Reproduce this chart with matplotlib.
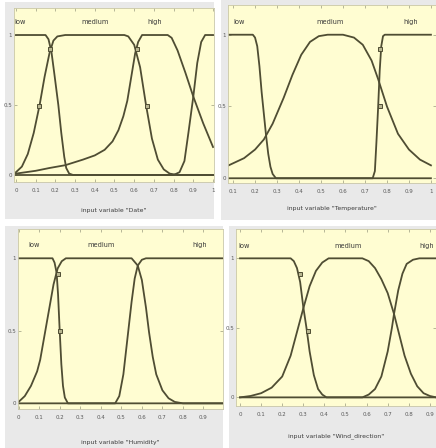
import matplotlib
matplotlib.use("Agg")
import matplotlib.pyplot as plt
from matplotlib.patches import Rectangle

W, H = 436, 448

# ---- values ----
mf_names = ["low", "medium", "high"]
xlabels = ['input variable "Date"', 'input variable "Temperature"',
           'input variable "Humidity"', 'input variable "Wind_direction"']

# Date
date_low_x = [0.0, 0.15, 0.165, 0.18, 0.195, 0.215, 0.23, 0.245, 0.255, 0.27, 0.29, 1.0]
date_low_y = [1.0, 1.0, 0.97, 0.88, 0.72, 0.5, 0.3, 0.13, 0.05, 0.01, 0.0, 0.0]
date_med_x = [0.0, 0.03, 0.06, 0.09, 0.12, 0.145, 0.17, 0.19, 0.21, 0.25, 0.55, 0.57,
              0.6, 0.63, 0.66, 0.69, 0.72, 0.75, 0.78, 0.82, 1.0]
date_med_y = [0.02, 0.06, 0.15, 0.3, 0.5, 0.7, 0.87, 0.96, 0.99, 1.0, 1.0, 0.99,
              0.93, 0.77, 0.5, 0.26, 0.11, 0.04, 0.01, 0.0, 0.0]
date_high_x = [0.0, 0.1, 0.17, 0.25, 0.34, 0.4, 0.45, 0.49, 0.52, 0.545, 0.565, 0.585,
               0.605, 0.62, 0.64, 0.77, 0.79, 0.82, 0.86, 0.9, 0.95, 1.0]
date_high_y = [0.01, 0.03, 0.05, 0.07, 0.11, 0.14, 0.18, 0.24, 0.32, 0.42, 0.53, 0.7,
               0.87, 0.95, 1.0, 1.0, 0.98, 0.89, 0.73, 0.56, 0.37, 0.2]
date_top_x = [0.0, 0.8, 0.83, 0.855, 0.875, 0.9, 0.92, 0.94, 0.96, 1.0]
date_top_y = [0.0, 0.0, 0.02, 0.1, 0.3, 0.56, 0.8, 0.95, 1.0, 1.0]
date_mark_x = [0.173, 0.118, 0.612, 0.663]
date_mark_y = [0.9, 0.49, 0.9, 0.49]
date_name_x = [0.02, 0.40, 0.705]

# Temperature
temp_low_x = [0.0, 0.19, 0.2, 0.21, 0.22, 0.23, 0.24, 0.25, 0.26, 0.27, 0.28, 0.295, 1.0]
temp_low_y = [1.0, 1.0, 0.98, 0.92, 0.78, 0.6, 0.45, 0.3, 0.17, 0.08, 0.03, 0.0, 0.0]
temp_med_x = [0.0, 0.08, 0.15, 0.2, 0.24, 0.28, 0.33, 0.37, 0.41, 0.45, 0.49, 0.53, 0.6,
              0.65, 0.69, 0.73, 0.76, 0.8, 0.85, 0.9, 0.95, 1.0]
temp_med_y = [0.05, 0.09, 0.14, 0.2, 0.27, 0.38, 0.56, 0.72, 0.86, 0.95, 0.99, 1.0, 1.0,
              0.98, 0.93, 0.82, 0.69, 0.5, 0.31, 0.2, 0.13, 0.09]
temp_high_x = [0.0, 0.735, 0.745, 0.752, 0.76, 0.767, 0.774, 0.782, 0.79, 1.0]
temp_high_y = [0.0, 0.0, 0.05, 0.25, 0.5, 0.75, 0.92, 0.99, 1.0, 1.0]
temp_mark_x = [0.767, 0.767]
temp_mark_y = [0.9, 0.5]
temp_name_x = [0.126, 0.54, 0.908]

# Humidity
hum_low_x = [0.0, 0.165, 0.175, 0.185, 0.192, 0.2, 0.208, 0.216, 0.225, 0.24, 1.0]
hum_low_y = [1.0, 1.0, 0.97, 0.9, 0.75, 0.5, 0.27, 0.12, 0.04, 0.0, 0.0]
hum_med_x = [0.0, 0.03, 0.06, 0.09, 0.105, 0.13, 0.15, 0.17, 0.19, 0.21, 0.23, 0.55,
             0.58, 0.6, 0.62, 0.635, 0.653, 0.67, 0.7, 0.73, 0.76, 0.8, 1.0]
hum_med_y = [0.01, 0.05, 0.12, 0.22, 0.3, 0.5, 0.66, 0.82, 0.93, 0.98, 1.0, 1.0,
             0.95, 0.85, 0.66, 0.49, 0.32, 0.2, 0.09, 0.035, 0.01, 0.0, 0.0]
hum_high_x = [0.0, 0.47, 0.49, 0.51, 0.53, 0.55, 0.565, 0.58, 0.6, 0.62, 1.0]
hum_high_y = [0.0, 0.0, 0.05, 0.2, 0.45, 0.7, 0.86, 0.95, 0.99, 1.0, 1.0]
hum_mark_x = [0.19, 0.2]
hum_mark_y = [0.89, 0.5]
hum_name_x = [0.074, 0.40, 0.883]

# Wind_direction
wind_low_x = [0.0, 0.24, 0.255, 0.27, 0.285, 0.3, 0.315, 0.33, 0.35, 0.37, 0.39, 0.41, 1.0]
wind_low_y = [1.0, 1.0, 0.98, 0.93, 0.83, 0.65, 0.5, 0.33, 0.16, 0.06, 0.02, 0.0, 0.0]
wind_med_x = [0.0, 0.05, 0.1, 0.15, 0.2, 0.24, 0.27, 0.3, 0.33, 0.36, 0.39, 0.42, 0.58,
              0.61, 0.64, 0.67, 0.7, 0.73, 0.76, 0.78, 0.81, 0.84, 0.87, 0.9, 0.93]
wind_med_y = [0.0, 0.01, 0.03, 0.07, 0.15, 0.3, 0.47, 0.64, 0.8, 0.91, 0.97, 1.0, 1.0,
              0.98, 0.93, 0.85, 0.75, 0.6, 0.42, 0.3, 0.17, 0.08, 0.03, 0.01, 0.0]
wind_high_x = [0.0, 0.58, 0.61, 0.64, 0.67, 0.7, 0.72, 0.73, 0.75, 0.77, 0.79, 0.82, 0.85, 1.0]
wind_high_y = [0.0, 0.0, 0.02, 0.06, 0.15, 0.33, 0.5, 0.6, 0.77, 0.89, 0.96, 0.99, 1.0, 1.0]
wind_mark_x = [0.284, 0.32]
wind_mark_y = [0.89, 0.48]
wind_name_x = [0.02, 0.51, 0.885]

# ---- layout (pixels) ----
GRAY = "#e9e9e9"
YELLOW = "#fffdd2"
LINE = "#4f4d33"
TXT = "#3a3a3a"

panels = [
    dict(bg=(5, 2, 214, 219), ax=(14, 8, 214, 182), xlim=(-0.01, 1.005), ylim=(-0.05, 1.193),
         xticks=[i / 10 for i in range(11)], xl_y=210,
         curves=[(date_low_x, date_low_y), (date_med_x, date_med_y),
                 (date_high_x, date_high_y), (date_top_x, date_top_y)],
         marks=(date_mark_x, date_mark_y), names=date_name_x, xlabel=xlabels[0]),
    dict(bg=(221, 0, 436, 220), ax=(228, 5, 436, 183), xlim=(0.077, 1.023), ylim=(-0.033, 1.207),
         xticks=[i / 10 for i in range(1, 11)], xl_y=208,
         curves=[(temp_low_x, temp_low_y), (temp_med_x, temp_med_y), (temp_high_x, temp_high_y)],
         marks=(temp_mark_x, temp_mark_y), names=temp_name_x, xlabel=xlabels[1]),
    dict(bg=(5, 226, 223, 448), ax=(18, 229, 223, 409), xlim=(-0.003, 0.995), ylim=(-0.039, 1.202),
         xticks=[i / 10 for i in range(10)], xl_y=442,
         curves=[(hum_low_x, hum_low_y), (hum_med_x, hum_med_y), (hum_high_x, hum_high_y)],
         marks=(hum_mark_x, hum_mark_y), names=hum_name_x, xlabel=xlabels[2]),
    dict(bg=(229, 226, 436, 448), ax=(236, 229, 436, 406), xlim=(-0.019, 0.929), ylim=(-0.062, 1.211),
         xticks=[i / 10 for i in range(10)], xl_y=436,
         curves=[(wind_low_x, wind_low_y), (wind_med_x, wind_med_y), (wind_high_x, wind_high_y)],
         marks=(wind_mark_x, wind_mark_y), names=wind_name_x, xlabel=xlabels[3]),
]

fig = plt.figure(figsize=(W / 100, H / 100), dpi=100)
fig.patch.set_facecolor("white")

for p in panels:
    x0, y0, x1, y1 = p["bg"]
    fig.add_artist(Rectangle((x0 / W, 1 - y1 / H), (x1 - x0) / W, (y1 - y0) / H,
                             transform=fig.transFigure, facecolor=GRAY, edgecolor="none", zorder=0))

    l, t, r, b = p["ax"]
    ax = fig.add_axes([l / W, 1 - b / H, (r - l) / W, (b - t) / H])
    ax.set_facecolor(YELLOW)
    ax.set_xlim(*p["xlim"])
    ax.set_ylim(*p["ylim"])

    for xs, ys in p["curves"]:
        ax.plot(xs, ys, color=LINE, lw=1.3, solid_joinstyle="round")
    mx, my = p["marks"]
    ax.plot(mx, my, ls="none", marker="s", ms=2.4, mfc="#b8b690", mec=LINE, mew=0.7)

    for name, nx in zip(mf_names, p["names"]):
        ax.text(nx, 1.09, name, ha="center", va="center", fontsize=4.8, color=TXT)

    ax.set_xticks(p["xticks"])
    ax.set_xticklabels(["%g" % v for v in p["xticks"]])
    ax.set_yticks([0, 0.5, 1])
    ax.set_yticklabels(["0", "0.5", "1"])
    ax.tick_params(direction="in", length=2, width=0.5, color="#9a9a80",
                   top=True, right=True, labelsize=4.0, labelcolor="#5a5a5a")
    ax.tick_params(axis="x", pad=4.5)
    ax.tick_params(axis="y", pad=1.5)
    for s in ax.spines.values():
        s.set_color("#c9c7a8")
        s.set_linewidth(0.6)

    fig.text((l + r) / 2 / W, 1 - p["xl_y"] / H, p["xlabel"], ha="center", va="center",
             fontsize=4.4, color=TXT)

fig.savefig("out.png", dpi=100)
